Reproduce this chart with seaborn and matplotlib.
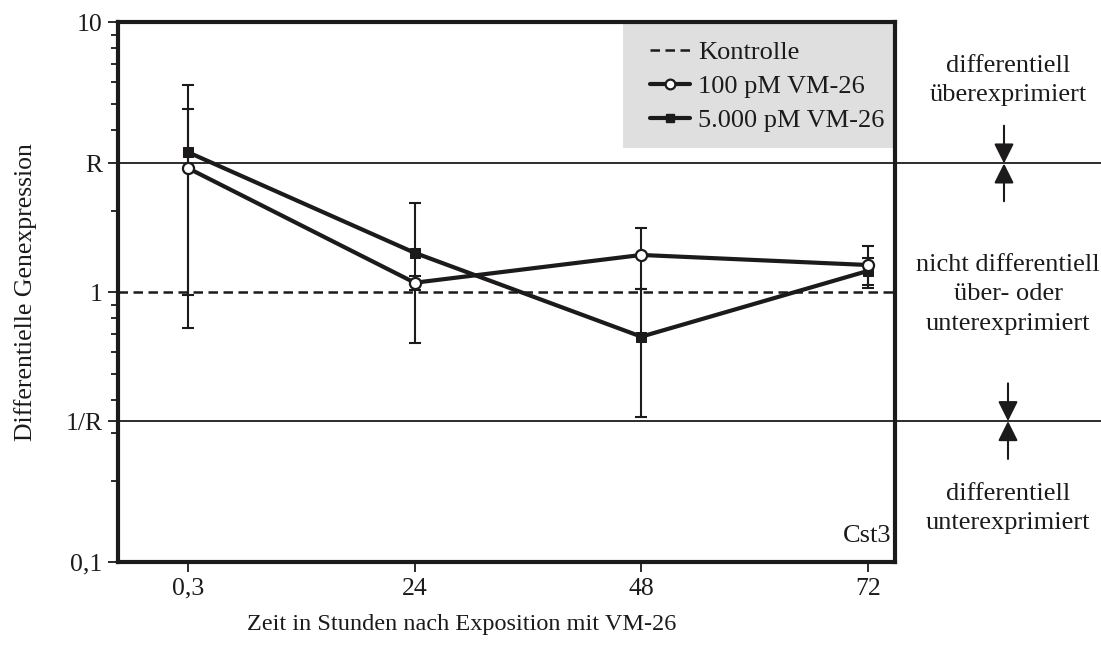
import numpy as np
import pandas as pd
import matplotlib
matplotlib.use("Agg")
import matplotlib.pyplot as plt
import matplotlib.transforms as mtransforms
from matplotlib.patches import Rectangle
from matplotlib.lines import Line2D
import seaborn as sns

# ---------------- data ----------------
time_labels = ["0,3", "24", "48", "72"]
R = 3.0
control = [1.0, 1.0, 1.0, 1.0]
vm100 = [2.88, 1.085, 1.375, 1.262]
vm100_err = [1.90, 0.067, 0.35, 0.222]
vm5000 = [3.30, 1.40, 0.685, 1.20]
vm5000_err = [2.56, 0.75, 0.34, 0.136]

series_names = ["Kontrolle", "100 pM VM-26", "5.000 pM VM-26"]
ytick_vals = [0.1, 1 / R, 1.0, R, 10.0]
ytick_labels = ["0,1", "1/R", "1", "R", "10"]
minor_vals = [0.2, 0.3, 0.4, 0.5, 0.6, 0.7, 0.8, 0.9, 2, 4, 5, 6, 7, 8, 9]
gene = "Cst3"
xlabel = "Zeit in Stunden nach Exposition mit VM-26"
ylabel = "Differentielle Genexpression"
note_up = "differentiell\nüberexprimiert"
note_mid = "nicht differentiell\nüber- oder\nunterexprimiert"
note_down = "differentiell\nunterexprimiert"

# ---------------- style ----------------
sns.set_theme(style="ticks")
plt.rcParams["font.family"] = ["Liberation Serif", "DejaVu Serif"]
INK = "#1c1a1b"
FS = 19
FS_TICK = 18.5

fig = plt.figure(figsize=(11.01, 6.45), dpi=100)
ax = fig.add_axes([118 / 1101, 1 - 562.3 / 645, (895 - 118) / 1101, 540 / 645])

x = np.arange(len(time_labels))
df = pd.DataFrame({"x": x, "ctrl": control, "v100": vm100, "v5000": vm5000})

# control dashed line spanning the axes
ax.axhline(control[0], color=INK, lw=1.8, ls=(0, (3.8, 2.2)), zorder=2)

# threshold lines at R and 1/R extending to the figure edge
ext = (1101 - 118) / 777
for yv in (R, 1 / R):
    ax.axhline(yv, xmin=0, xmax=ext, color=INK, lw=1.3, clip_on=False, zorder=2)

# error bars
ax.errorbar(x, vm100, yerr=vm100_err, fmt="none", ecolor=INK, elinewidth=1.5,
            capsize=4, capthick=1.5, zorder=3)
ax.errorbar(x, vm5000, yerr=vm5000_err, fmt="none", ecolor=INK, elinewidth=1.5,
            capsize=4, capthick=1.5, zorder=3)

sns.lineplot(data=df, x="x", y="v5000", ax=ax, color=INK, lw=3.0, marker="s",
             markersize=7, markerfacecolor=INK, markeredgecolor=INK, zorder=4)
sns.lineplot(data=df, x="x", y="v100", ax=ax, color=INK, lw=3.0, marker="o",
             markersize=8, markerfacecolor="white", markeredgecolor=INK,
             markeredgewidth=1.6, zorder=5)

ax.set_yscale("log")
ax.set_ylim(0.1, 10)
ax.set_xlim(-0.31, 3.12)
ax.set_xticks(x)
ax.set_xticklabels(time_labels, fontsize=FS_TICK)
ax.set_yticks(ytick_vals)
ax.set_yticklabels(ytick_labels, fontsize=FS_TICK)
ax.yaxis.set_minor_locator(matplotlib.ticker.FixedLocator(minor_vals))
ax.yaxis.set_minor_formatter(matplotlib.ticker.NullFormatter())
ax.tick_params(axis="both", which="major", direction="out", length=7, width=1.3,
               color=INK, labelcolor=INK, pad=4)
ax.tick_params(axis="y", which="minor", direction="out", length=5, width=1.3, color=INK)

for sp in ax.spines.values():
    sp.set_linewidth(3.0)
    sp.set_color(INK)
    sp.set_visible(True)

ax.set_xlabel(xlabel, fontsize=17.5, color=INK)
ax.set_ylabel(ylabel, fontsize=18.5, color=INK)
ax.xaxis.set_label_coords((462 - 118) / 777, -0.096)
ax.yaxis.set_label_coords((37 - 118) / 777, 0.5)

# legend background box
ax.add_patch(Rectangle(((623 - 118) / 777, (562.3 - 148) / 540),
                       1 - (623 - 118) / 777, 1 - (562.3 - 148) / 540,
                       transform=ax.transAxes, facecolor="#dfdfdf",
                       edgecolor="none", zorder=1))
handles = [
    Line2D([], [], color=INK, lw=1.8, ls=(0, (3.8, 2.2))),
    Line2D([], [], color=INK, lw=3.0, marker="o", markersize=7,
           markerfacecolor="white", markeredgecolor=INK, markeredgewidth=1.6),
    Line2D([], [], color=INK, lw=3.0, marker="s", markersize=6,
           markerfacecolor=INK, markeredgecolor=INK),
]
leg = ax.legend(handles, series_names, loc="upper left",
                bbox_to_anchor=((632 - 118) / 777, 1.0), frameon=False,
                fontsize=FS, handlelength=1.5, handletextpad=0.3,
                labelspacing=0.4, borderaxespad=0.3, numpoints=1)
for t in leg.get_texts():
    t.set_color(INK)

ax.text(0.995, 0.028, gene, transform=ax.transAxes, ha="right", va="bottom",
        fontsize=FS, color=INK)

# side annotations
trans = mtransforms.blended_transform_factory(ax.transAxes, ax.transData)
xc = (1008 - 118) / 777
ax.text(xc, 0.893, note_up, transform=ax.transAxes, ha="center", va="center",
        fontsize=FS, color=INK, linespacing=1.42, clip_on=False)
ax.text(xc, 0.496, note_mid, transform=ax.transAxes, ha="center", va="center",
        fontsize=FS, color=INK, linespacing=1.42, clip_on=False)
ax.text(xc, 0.1, note_down, transform=ax.transAxes, ha="center", va="center",
        fontsize=FS, color=INK, linespacing=1.42, clip_on=False)

aprops = dict(arrowstyle="-|>,head_length=0.6,head_width=0.3", color=INK, lw=1.5,
              shrinkA=0, shrinkB=0, mutation_scale=20)
for xa, yv in (((1004 - 118) / 777, R), ((1008 - 118) / 777, 1 / R)):
    ax.annotate("", xy=(xa, yv), xycoords=trans, xytext=(xa, yv * 1.38),
                textcoords=trans, arrowprops=aprops, annotation_clip=False)
    ax.annotate("", xy=(xa, yv), xycoords=trans, xytext=(xa, yv / 1.38),
                textcoords=trans, arrowprops=aprops, annotation_clip=False)

fig.savefig("out.png", dpi=100)
